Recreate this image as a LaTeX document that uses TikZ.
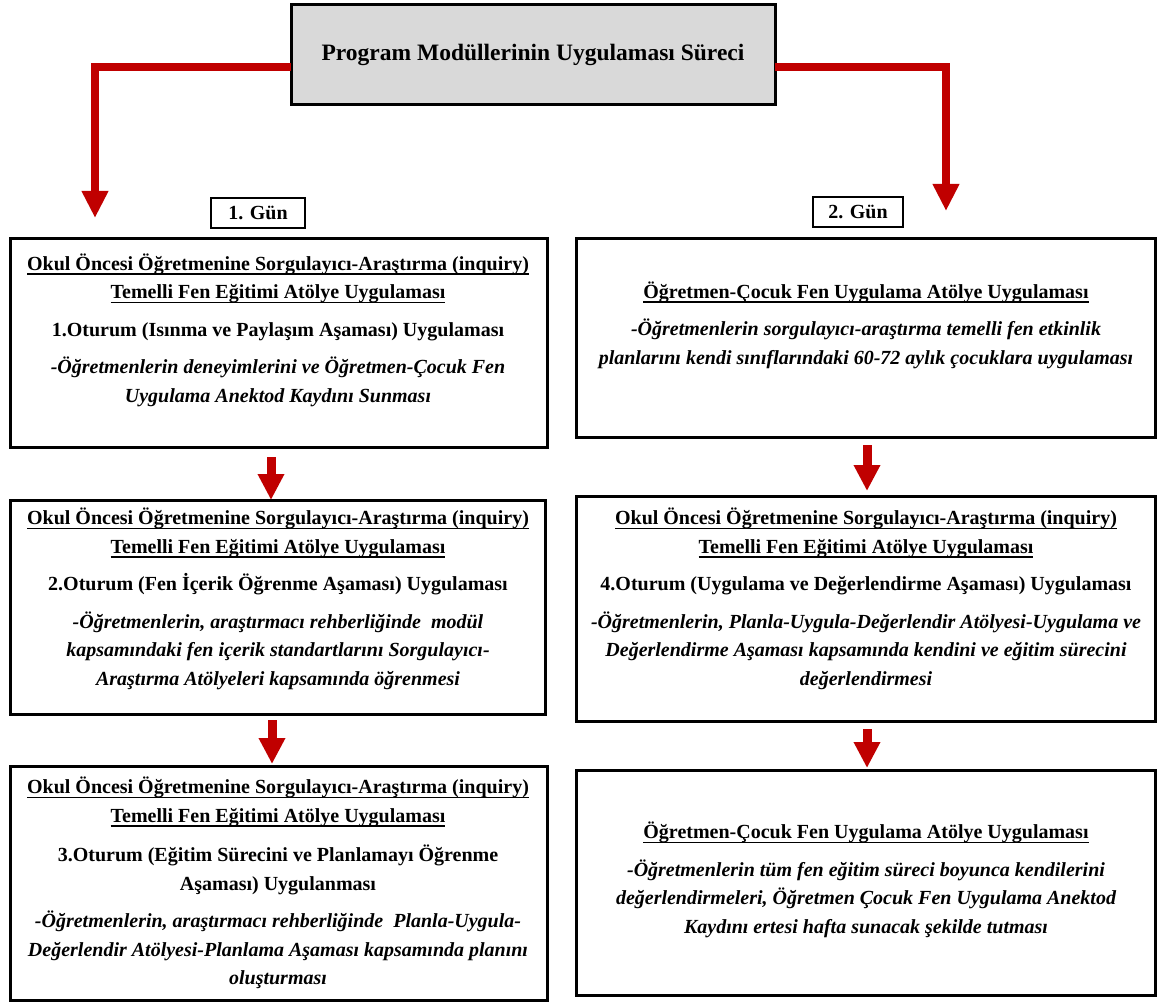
\documentclass[tikz,border=0pt]{standalone}
\usepackage{fontspec}
\setmainfont{Liberation Serif}
\usetikzlibrary{arrows.meta}

% thick underline that sits just below the descenders
\newcommand{\undl}[1]{\leavevmode\setbox0\hbox{#1}\rlap{\rule[-4.5pt]{\wd0}{1.6pt}}\box0}
\newcommand{\itl}[1]{{\itshape #1}}

\definecolor{flowred}{HTML}{C00000}
\definecolor{titlegray}{HTML}{D9D9D9}

\begin{document}
\begin{tikzpicture}[x=1pt,y=-1pt,
  box/.style={draw=black, line width=3pt, fill=white, inner sep=0pt, outer sep=0pt},
  daybox/.style={draw=black, line width=2.5pt, fill=white, inner sep=0pt,
    minimum height=30pt, font=\bfseries\fontsize{20pt}{24pt}\selectfont},
  txt/.style={align=center, inner sep=0pt, font=\bfseries\fontsize{20pt}{28.5pt}\selectfont},
  bigflow/.style={draw=flowred, line width=8pt, line join=miter,
    -{Triangle[width=25pt,length=27pt]}},
  smallflow/.style={draw=flowred, line width=9pt,
    -{Triangle[width=25pt,length=26pt]}}
]
\useasboundingbox (0,0) rectangle (1159,1003);

% title
\node[box, fill=titlegray, minimum width=484pt, minimum height=100pt,
  font=\bfseries\fontsize{23.5pt}{28pt}\selectfont] (T) at (533,55)
  {Program Modüllerinin Uygulaması Süreci};

% day labels
\node[daybox, minimum width=94pt] (D1) at (258,213) {1. Gün};
\node[daybox, minimum width=90pt] (D2) at (858,212) {2. Gün};

% left column boxes
\node[box, minimum width=537pt, minimum height=209pt] (L1) at (278.5,342.5) {};
\node[box, minimum width=535pt, minimum height=214pt] (L2) at (277.5,607) {};
\node[box, minimum width=537pt, minimum height=234pt] (L3) at (278.5,883) {};

% right column boxes
\node[box, minimum width=579pt, minimum height=199pt] (R1) at (865.5,337.5) {};
\node[box, minimum width=579pt, minimum height=225pt] (R2) at (865.5,608.5) {};
\node[box, minimum width=579pt, minimum height=225pt] (R3) at (865.5,882.5) {};

% texts of the left column
\node[txt] (L1t) at (278,330) {%
  \undl{Okul Öncesi Öğretmenine Sorgulayıcı-Araştırma (inquiry)}\\
  \undl{Temelli Fen Eğitimi Atölye Uygulaması}\\[9pt]
  1.Oturum (Isınma ve Paylaşım Aşaması) Uygulaması\\[9pt]
  \itl{-Öğretmenlerin deneyimlerini ve Öğretmen-Çocuk Fen}\\
  \itl{Uygulama Anektod Kaydını Sunması}};

\node[txt] (L2t) at (278,599) {%
  \undl{Okul Öncesi Öğretmenine Sorgulayıcı-Araştırma (inquiry)}\\
  \undl{Temelli Fen Eğitimi Atölye Uygulaması}\\[9pt]
  2.Oturum (Fen İçerik Öğrenme Aşaması) Uygulaması\\[9pt]
  \itl{-Öğretmenlerin, araştırmacı rehberliğinde\ \ modül}\\
  \itl{kapsamındaki fen içerik standartlarını Sorgulayıcı-}\\
  \itl{Araştırma Atölyeleri kapsamında öğrenmesi}};

\node[txt] (L3t) at (278,883) {%
  \undl{Okul Öncesi Öğretmenine Sorgulayıcı-Araştırma (inquiry)}\\
  \undl{Temelli Fen Eğitimi Atölye Uygulaması}\\[11pt]
  3.Oturum (Eğitim Sürecini ve Planlamayı Öğrenme\\
  Aşaması) Uygulanması\\[9pt]
  \itl{-Öğretmenlerin, araştırmacı rehberliğinde\ \ Planla-Uygula-}\\
  \itl{Değerlendir Atölyesi-Planlama Aşaması kapsamında planını}\\
  \itl{oluşturması}};

% texts of the right column
\node[txt] (R1t) at (866,325) {%
  \undl{Öğretmen-Çocuk Fen Uygulama Atölye Uygulaması}\\[9pt]
  \itl{-Öğretmenlerin sorgulayıcı-araştırma temelli fen etkinlik}\\
  \itl{planlarını kendi sınıflarındaki 60-72 aylık çocuklara uygulaması}};

\node[txt] (R2t) at (866,599) {%
  \undl{Okul Öncesi Öğretmenine Sorgulayıcı-Araştırma (inquiry)}\\
  \undl{Temelli Fen Eğitimi Atölye Uygulaması}\\[9pt]
  4.Oturum (Uygulama ve Değerlendirme Aşaması) Uygulaması\\[9pt]
  \itl{-Öğretmenlerin, Planla-Uygula-Değerlendir Atölyesi-Uygulama ve}\\
  \itl{Değerlendirme Aşaması kapsamında kendini ve eğitim sürecini}\\
  \itl{değerlendirmesi}};

\node[txt] (R3t) at (866,880) {%
  \undl{Öğretmen-Çocuk Fen Uygulama Atölye Uygulaması}\\[9pt]
  \itl{-Öğretmenlerin tüm fen eğitim süreci boyunca kendilerini}\\
  \itl{değerlendirmeleri, Öğretmen Çocuk Fen Uygulama Anektod}\\
  \itl{Kaydını ertesi hafta sunacak şekilde tutması}};

% branches from the title to the two days
\coordinate (day1) at (95,218);
\coordinate (day2) at (946,211);
\draw[bigflow] ([yshift=-12pt]T.west) -| (day1);
\draw[bigflow] ([yshift=-12pt]T.east) -| (day2);

% sequence arrows inside each day
\draw[smallflow] ([xshift=-7.5pt,yshift=-10pt]L1.south) -- ([xshift=-6.5pt,yshift=0pt]L2.north);
\draw[smallflow] ([xshift=-5.5pt,yshift=-6pt]L2.south) -- ([xshift=-6.5pt,yshift=2pt]L3.north);
\draw[smallflow] ([xshift=1.5pt,yshift=-8pt]R1.south) -- ([xshift=1.5pt,yshift=5pt]R2.north);
\draw[smallflow] ([xshift=1.5pt,yshift=-8pt]R2.south) -- ([xshift=1.5pt,yshift=2pt]R3.north);
\end{tikzpicture}
\end{document}
